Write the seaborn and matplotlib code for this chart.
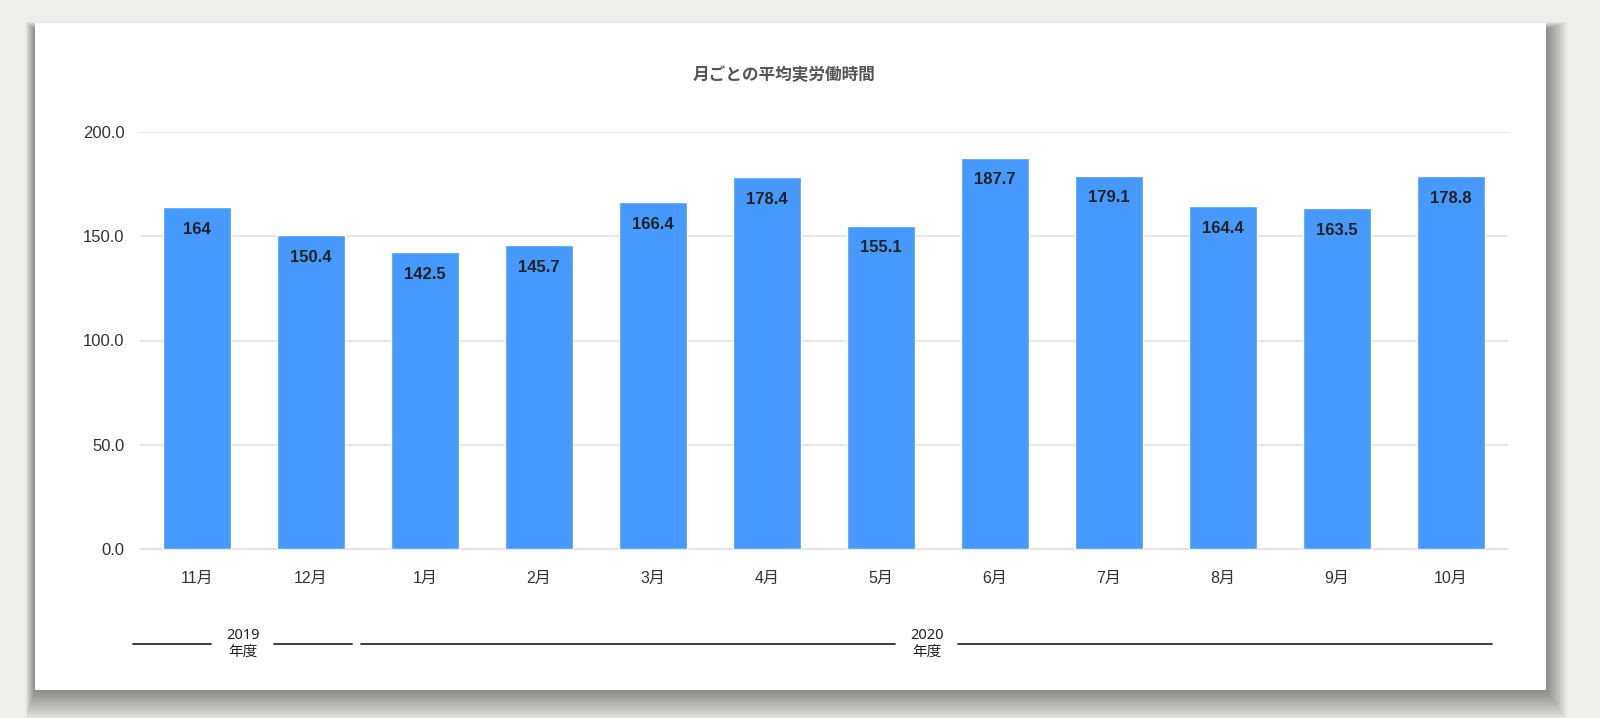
import matplotlib
matplotlib.use("Agg")
import matplotlib.pyplot as plt
import matplotlib.patches as mpatches
import matplotlib.transforms as mtransforms
import seaborn as sns
import pandas as pd

# data
months = ["11月", "12月", "1月", "2月", "3月", "4月", "5月", "6月", "7月", "8月", "9月", "10月"]
hours = [164, 150.4, 142.5, 145.7, 166.4, 178.4, 155.1, 187.7, 179.1, 164.4, 163.5, 178.8]
value_labels = ["164", "150.4", "142.5", "145.7", "166.4", "178.4", "155.1", "187.7", "179.1", "164.4", "163.5", "178.8"]
year_names = ["2019\n年度", "2020\n年度"]
year_start = [0, 2]
year_end = [1, 11]
title = "月ごとの平均実労働時間"

sns.set_theme(style="white")
plt.rcParams["font.family"] = ["Liberation Sans", "Noto Sans CJK JP", "DejaVu Sans"]

df = pd.DataFrame({"month": months, "hours": hours})

W, H = 1600, 718
fig = plt.figure(figsize=(W / 100, H / 100), dpi=100)
fig.patch.set_facecolor("#eeeeec")

# white card with a soft drop shadow, mostly below (pixel box: 35..1546, 23..690)
cl, cr, ct, cb = 35, 1546, 23, 690
for k in range(1, 24):
    x0, x1 = cl - 0.4 * k, cr + 0.9 * k
    y0, y1 = ct + 6 - 0.3 * k, cb + 1.3 * k
    fig.patches.append(mpatches.Rectangle((x0 / W, 1 - y1 / H), (x1 - x0) / W, (y1 - y0) / H,
                                          transform=fig.transFigure, facecolor="black", alpha=0.018,
                                          edgecolor="none", zorder=0))
fig.patches.append(mpatches.Rectangle((cl / W, 1 - cb / H), (cr - cl) / W, (cb - ct) / H,
                                      transform=fig.transFigure, facecolor="white", edgecolor="none", zorder=1))

ax = fig.add_axes([140 / W, 1 - 549 / H, (1508 - 140) / W, (549 - 132) / H])
ax.set_facecolor("none")
ax.set_zorder(2)
sns.barplot(data=df, x="month", y="hours", color="#4699ff", width=0.6, saturation=1, ax=ax, zorder=3)

ax.set_ylim(0, 200)
ax.set_xlim(-0.5, len(months) - 0.5)
ax.set_yticks([0, 50, 100, 150, 200])
ax.set_yticklabels(["0.0", "50.0", "100.0", "150.0", "200.0"])
ax.yaxis.grid(True, color="#e2e2e2", linewidth=1.2)
ax.set_axisbelow(True)
for s in ["top", "right", "left"]:
    ax.spines[s].set_visible(False)
ax.spines["bottom"].set_color("#e2e2e2")
ax.spines["bottom"].set_linewidth(1.2)
ax.tick_params(axis="both", length=0, labelcolor="#333333")
ax.tick_params(axis="x", pad=16, labelsize=11.5)
ax.tick_params(axis="y", pad=11, labelsize=12)
ax.set_xlabel("")
ax.set_ylabel("")

for i, (v, lab) in enumerate(zip(hours, value_labels)):
    ax.annotate(lab, (i, v), xytext=(0, -16), textcoords="offset points", ha="center", va="center",
                fontsize=12, fontweight="bold", color="#222222", zorder=4)

# year groups below the month labels
trans = mtransforms.blended_transform_factory(ax.transData, fig.transFigure)
px = 12 / (1508 - 140)  # one pixel in data units along x
ly = 1 - 644 / H
for name, s, e in zip(year_names, year_start, year_end):
    left = s - 0.56
    right = e + 0.36
    mid = (left + right) / 2
    gap = 31.5 * px
    ax.plot([left, mid - gap], [ly, ly], transform=trans, color="#2a2e33", lw=1.3, clip_on=False)
    ax.plot([mid + gap, right], [ly, ly], transform=trans, color="#2a2e33", lw=1.3, clip_on=False)
    ax.text(mid, ly, name, transform=trans, ha="center", va="center", fontsize=10.5,
            color="#222222", linespacing=1.2, family=["Noto Sans", "Noto Sans CJK JP", "DejaVu Sans"])

fig.text(784 / W, 1 - 75 / H, title, ha="center", va="center", fontsize=12, fontweight="bold",
         color="#555555", zorder=3, family=["Noto Sans CJK JP", "DejaVu Sans"])

fig.savefig("out.png", dpi=100, facecolor=fig.get_facecolor())
